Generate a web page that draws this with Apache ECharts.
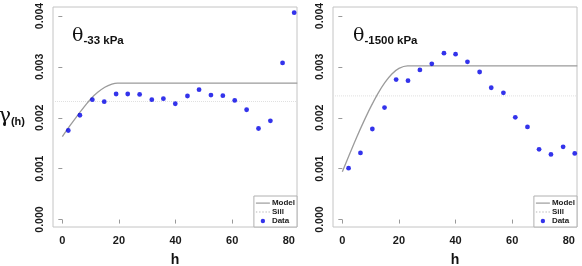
<!DOCTYPE html>
<html>
<head>
<meta charset="utf-8">
<script src="https://cdn.jsdelivr.net/npm/echarts@6/dist/echarts.min.js"></script>
<style>
  html, body { margin: 0; padding: 0; background: #fff; }
  #chart { width: 582px; height: 266px; }
</style>
</head>
<body>
<div id="chart"></div>
<script>
// semivariogram data
const xTicks = [0, 20, 40, 60, 80];
const yTicks = [0, 0.001, 0.002, 0.003, 0.004];

const hLeft = [2.1, 6.2, 10.6, 14.8, 19.0, 23.1, 27.3, 31.6, 35.7, 39.9, 44.2, 48.3, 52.5, 56.7, 60.9, 65.1, 69.3, 73.5, 77.8, 81.9];
const gammaLeft = [0.00175, 0.00205, 0.002355, 0.002316, 0.002467, 0.002467, 0.00246, 0.002355, 0.002375, 0.002276, 0.002428, 0.002553, 0.002447, 0.002434, 0.002342, 0.002158, 0.00179, 0.001941, 0.003079, 0.004066];
const modelLeftH = [0, 2.5, 5, 7.5, 10, 12.5, 15, 17.5, 19.5, 83];
const modelLeftG = [0.00163, 0.00183, 0.00202, 0.0022, 0.00237, 0.0025, 0.0026, 0.00266, 0.00268, 0.00268];
const sillLeft = 0.00232;

const hRight = [2.2, 6.4, 10.6, 14.9, 19.0, 23.2, 27.4, 31.6, 35.9, 40.0, 44.2, 48.5, 52.6, 56.9, 61.1, 65.4, 69.5, 73.7, 78.0, 82.1];
const gammaRight = [0.00101, 0.00131, 0.00178, 0.0022, 0.00275, 0.00273, 0.00294, 0.00306, 0.00327, 0.00325, 0.0031, 0.0029, 0.00259, 0.00249, 0.00201, 0.00182, 0.00138, 0.00128, 0.00143, 0.0013];
const modelRightH = [0, 2.5, 5, 7.5, 10, 12.5, 15, 17.5, 20, 23, 83];
const modelRightG = [0.00094, 0.00128, 0.00161, 0.00192, 0.00221, 0.00247, 0.00269, 0.00286, 0.00297, 0.00302, 0.00302];
const sillRight = 0.00243;

const xMin = -3.3, xMax = 82.9;
const yMin = -0.000146, yMax = 0.004177;

const font = "Liberation Sans";
const zip = (a, b) => a.map((v, i) => [v, b[i]]);

// legend glyphs: the first two moves fix the box so the marks keep their size
const iconModel = "path://M0,0 M14,8 M0,3.5 h14 v1.2 h-14 z";
const iconSill = "path://M0,0 M14,8 M0,3.6 h1.4 v1 h-1.4 z M3.2,3.6 h1.4 v1 h-1.4 z M6.4,3.6 h1.4 v1 h-1.4 z M9.6,3.6 h1.4 v1 h-1.4 z M12.6,3.6 h1.4 v1 h-1.4 z";
const iconData = "path://M0,0 M14,8 M9.2,4 A2.2,2.2 0 1,1 4.8,4 A2.2,2.2 0 1,1 9.2,4 Z";

const chart = echarts.init(document.getElementById("chart"), null, { renderer: "canvas" });

function xAxisFor(idx) {
  return {
    type: "value", gridIndex: idx, min: xMin, max: xMax,
    name: "h", nameLocation: "middle", nameGap: 26,
    nameTextStyle: { fontFamily: font, fontWeight: "bold", fontSize: 14, color: "#111" },
    axisLine: { show: false },
    splitLine: { show: false },
    axisTick: { show: true, inside: false, length: 4, customValues: xTicks, lineStyle: { color: "#999" } },
    axisLabel: { customValues: xTicks, margin: 8, fontFamily: font, fontWeight: "bold", fontSize: 11, color: "#1a1a1a" },
  };
}

function yAxisFor(idx, withName) {
  return {
    type: "value", gridIndex: idx, min: yMin, max: yMax,
    name: withName ? "{g|γ}{s|(h)}" : "",
    nameLocation: "middle", nameRotate: 0, nameGap: 28,
    nameTextStyle: {
      rich: {
        g: { fontFamily: "DejaVu Serif", fontSize: 21, color: "#111" },
        s: { fontFamily: font, fontWeight: "bold", fontSize: 11, color: "#111", padding: [9, 0, 0, 0] },
      },
    },
    axisLine: { show: false },
    splitLine: { show: false },
    axisTick: { show: true, inside: false, length: 4, customValues: yTicks, lineStyle: { color: "#999" } },
    axisLabel: {
      customValues: yTicks, rotate: 90, margin: 7,
      fontFamily: font, fontWeight: "bold", fontSize: 10.5, color: "#1a1a1a",
      formatter: (v) => v.toFixed(3),
    },
  };
}

function seriesFor(idx, hs, gs, mh, mg, sill) {
  return [
    {
      name: "Sill", type: "line", xAxisIndex: idx, yAxisIndex: idx, z: 1,
      data: [[xMin, sill], [xMax, sill]], symbol: "none",
      lineStyle: { color: "#e0e0e0", width: 1, type: "dotted" }, itemStyle: { color: "#bbb" },
    },
    {
      name: "Model", type: "line", xAxisIndex: idx, yAxisIndex: idx, z: 2,
      data: zip(mh, mg), smooth: 0.3, symbol: "none",
      lineStyle: { color: "#9b9b9b", width: 1.3 }, itemStyle: { color: "#9b9b9b" },
    },
    {
      name: "Data", type: "scatter", xAxisIndex: idx, yAxisIndex: idx, z: 4,
      data: zip(hs, gs), symbol: "circle", symbolSize: 4.8, clip: false,
      itemStyle: { color: "#0000e6" },
    },
  ];
}

function legendFor(right) {
  return {
    orient: "vertical", right: right, bottom: 39, z: 10,
    data: [
      { name: "Model", icon: iconModel, itemStyle: { color: "#9b9b9b" } },
      { name: "Sill", icon: iconSill, itemStyle: { color: "#b8b8b8" } },
      { name: "Data", icon: iconData, itemStyle: { color: "#0000e6" } },
    ],
    backgroundColor: "#fff", borderColor: "#b0b0b0", borderWidth: 1,
    padding: [3, 2, 2, 2], itemGap: 1, itemWidth: 14, itemHeight: 8,
    selectedMode: false,
    textStyle: { fontFamily: font, fontWeight: "bold", fontSize: 8, color: "#222", padding: [0, 0, 0, -3] },
  };
}

function titleFor(left, sub) {
  return {
    text: "{t|θ}{s|" + sub + "}", left: left, top: 21,
    textStyle: {
      rich: {
        t: { fontFamily: "DejaVu Serif", fontWeight: "normal", fontSize: 19, color: "#111" },
        s: { fontFamily: font, fontWeight: "bold", fontSize: 11.5, color: "#111", padding: [9, 0, 0, 0] },
      },
    },
  };
}

const gridBase = { top: 7, bottom: 39, show: true, borderColor: "#c4c4c4", borderWidth: 1, backgroundColor: "transparent", outerBoundsMode: "none" };

chart.setOption({
  animation: false,
  backgroundColor: "#fff",
  title: [titleFor(67, "-33 kPa"), titleFor(348, "-1500 kPa")],
  grid: [
    { ...gridBase, left: 53, right: 285 },
    { ...gridBase, left: 333, right: 5 },
  ],
  legend: [legendFor(285), legendFor(5)],
  xAxis: [xAxisFor(0), xAxisFor(1)],
  yAxis: [yAxisFor(0, true), yAxisFor(1, false)],
  series: [
    ...seriesFor(0, hLeft, gammaLeft, modelLeftH, modelLeftG, sillLeft),
    ...seriesFor(1, hRight, gammaRight, modelRightH, modelRightG, sillRight),
  ],
});
</script>
</body>
</html>
